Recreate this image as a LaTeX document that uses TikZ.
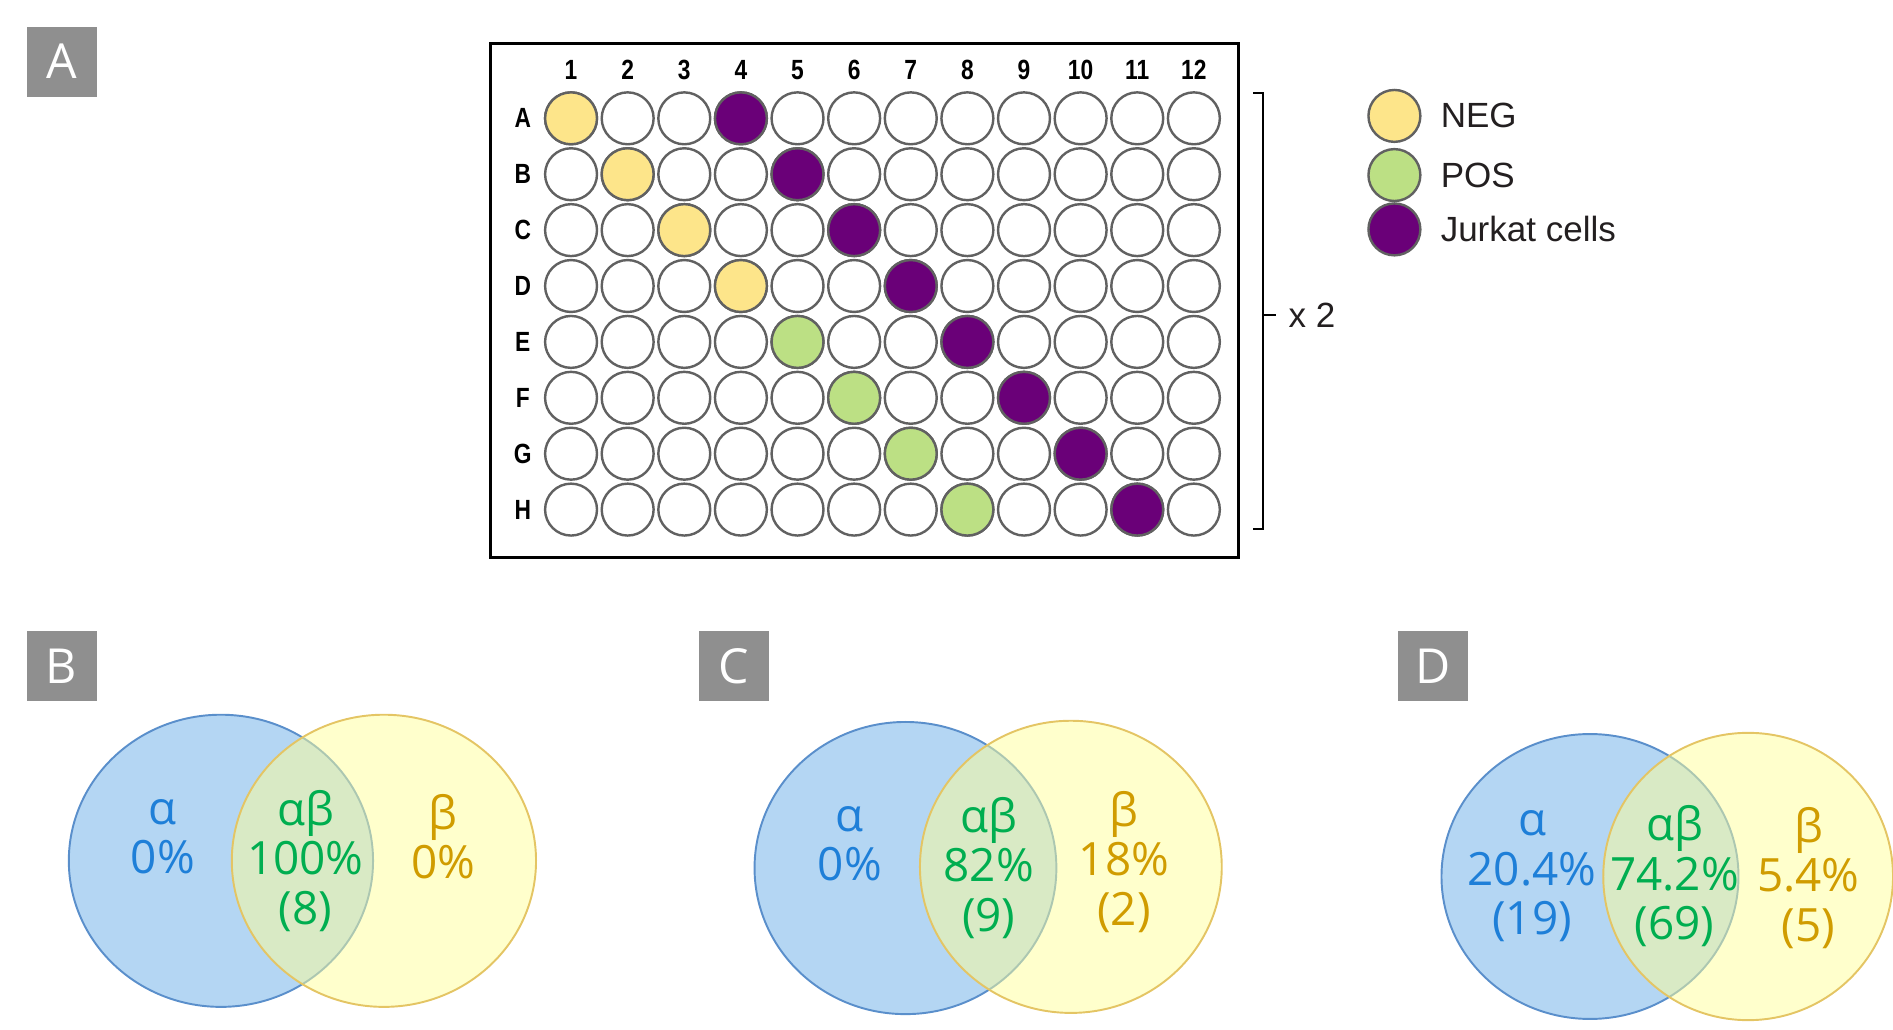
\documentclass[tikz,border=0pt]{standalone}
\usepackage{fontspec}
\setmainfont{Liberation Sans}
\newfontfamily\vennfont{Open Sans}
\newfontfamily\platefont[FakeStretch=0.82]{Liberation Sans}
\newfontfamily\tagfont{Open Sans}

\definecolor{tagGray}{HTML}{8F8F8F}
\definecolor{wellLine}{HTML}{616161}
\definecolor{negY}{HTML}{FDE58A}
\definecolor{posG}{HTML}{BCE084}
\definecolor{jurP}{HTML}{6A0078}
\definecolor{vBlueFill}{HTML}{B4D6F3}
\definecolor{vBlueLine}{HTML}{5A8FCB}
\definecolor{vYelFill}{HTML}{FFFF99}
\definecolor{vYelLine}{HTML}{E4C564}
\definecolor{txBlue}{HTML}{1E7FD8}
\definecolor{txGreen}{HTML}{00AE50}
\definecolor{txGold}{HTML}{D09C00}
\definecolor{inkDark}{HTML}{231F20}

\tikzset{
  tagbox/.style={fill=tagGray, text=white, minimum width=29pt, minimum height=29pt,
    inner sep=0pt, font=\tagfont\fontsize{20}{22}\selectfont},
  well/.style={circle, draw=wellLine, line width=1pt, minimum size=21.5pt, inner sep=0pt},
  plateLbl/.style={font=\platefont\bfseries\fontsize{11.5}{13}\selectfont, inner sep=0pt},
  legTxt/.style={anchor=west, text=inkDark, font=\fontsize{14.5}{16}\selectfont, inner sep=0pt},
  blueSet/.style={fill=vBlueFill, draw=vBlueLine, line width=0.8pt},
  yelSet/.style={fill=vYelFill, fill opacity=0.5, draw=vYelLine, draw opacity=1, line width=0.8pt},
  vtxt/.style={align=center, inner sep=0pt, font=\vennfont\fontsize{19}{20.5}\selectfont},
}

\begin{document}
\begin{tikzpicture}[x=0.5pt, y=-0.5pt]
\useasboundingbox (0,0) rectangle (1568,853);

% panel tags
\node[tagbox] (tagA) at (51,51) {A};
\node[tagbox] (tagB) at (51,552) {B};
\node[tagbox] (tagC) at (608,552) {C};
\node[tagbox] (tagD) at (1187,552) {D};

% 96-well plate
\draw[line width=1.2pt] (406,36) rectangle (1026,462);
\foreach \c in {1,...,12} {
  \node[plateLbl] (col-\c) at ({473+(\c-1)*46.9},58) {\c};
}
\foreach \r [count=\i from 0] in {A,B,C,D,E,F,G,H} {
  \node[plateLbl] (row-\r) at (433,{98+\i*46.3}) {\r};
  \foreach \c in {1,...,12} {
    \node[well] (w-\r-\c) at ({473+(\c-1)*46.9},{98+\i*46.3}) {};
  }
}
% filled wells
\foreach \w in {A-1,B-2,C-3,D-4} { \node[well, fill=negY] at (w-\w) {}; }
\foreach \w in {E-5,F-6,G-7,H-8} { \node[well, fill=posG] at (w-\w) {}; }
\foreach \w in {A-4,B-5,C-6,D-7,E-8,F-9,G-10,H-11} { \node[well, fill=jurP] at (w-\w) {}; }

% replicate bracket
\coordinate (brT) at (1046,77);
\coordinate (brB) at (1046,438);
\coordinate (brM) at (1046,261);
\draw[line width=1pt] ([xshift=-4pt]brT) -- (brT) -- (brB) -- ([xshift=-4pt]brB);
\draw[line width=1pt] (brM) -- ([xshift=5.5pt]brM);
\node[legTxt, text=inkDark] (rep) at (1067,261) {x 2};

% legend
\node[well, fill=negY] (legNeg) at (1155,96) {};
\node[well, fill=posG] (legPos) at (1155,145) {};
\node[well, fill=jurP] (legJur) at (1155,190) {};
\node[legTxt] (legNegT) at (1193,96) {NEG};
\node[legTxt] (legPosT) at (1193,145) {POS};
\node[legTxt] (legJurT) at (1193,190) {Jurkat cells};

% Venn diagram B
\draw[blueSet] (183,713) ellipse [x radius=126, y radius=121];
\draw[yelSet] (318,713) ellipse [x radius=126, y radius=121];
\node[vtxt, text=txBlue] (vB-a) at (135,693) {α\\0\%};
\node[vtxt, text=txGreen] (vB-ab) at (253,713) {αβ\\100\%\\(8)};
\node[vtxt, text=txGold] (vB-b) at (367,693) {β\\0\%};

% Venn diagram C
\draw[blueSet] (750,719) ellipse [x radius=125, y radius=121];
\draw[yelSet] (887,718) ellipse [x radius=125, y radius=121];
\node[vtxt, text=txBlue] (vC-a) at (704,699) {α\\0\%};
\node[vtxt, text=txGreen] (vC-ab) at (819,719) {αβ\\82\%\\(9)};
\node[vtxt, text=txGold] (vC-b) at (931,714) {β\\18\%\\(2)};

% Venn diagram D
\draw[blueSet] (1317,726) ellipse [x radius=123, y radius=118];
\draw[yelSet] (1448,726) ellipse [x radius=120, y radius=119];
\node[vtxt, text=txBlue] (vD-a) at (1269,726) {α\\20.4\%\\(19)};
\node[vtxt, text=txGreen] (vD-ab) at (1387,726) {αβ\\74.2\%\\(69)};
\node[vtxt, text=txGold] (vD-b) at (1498,727) {β\\5.4\%\\(5)};
\end{tikzpicture}
\end{document}
